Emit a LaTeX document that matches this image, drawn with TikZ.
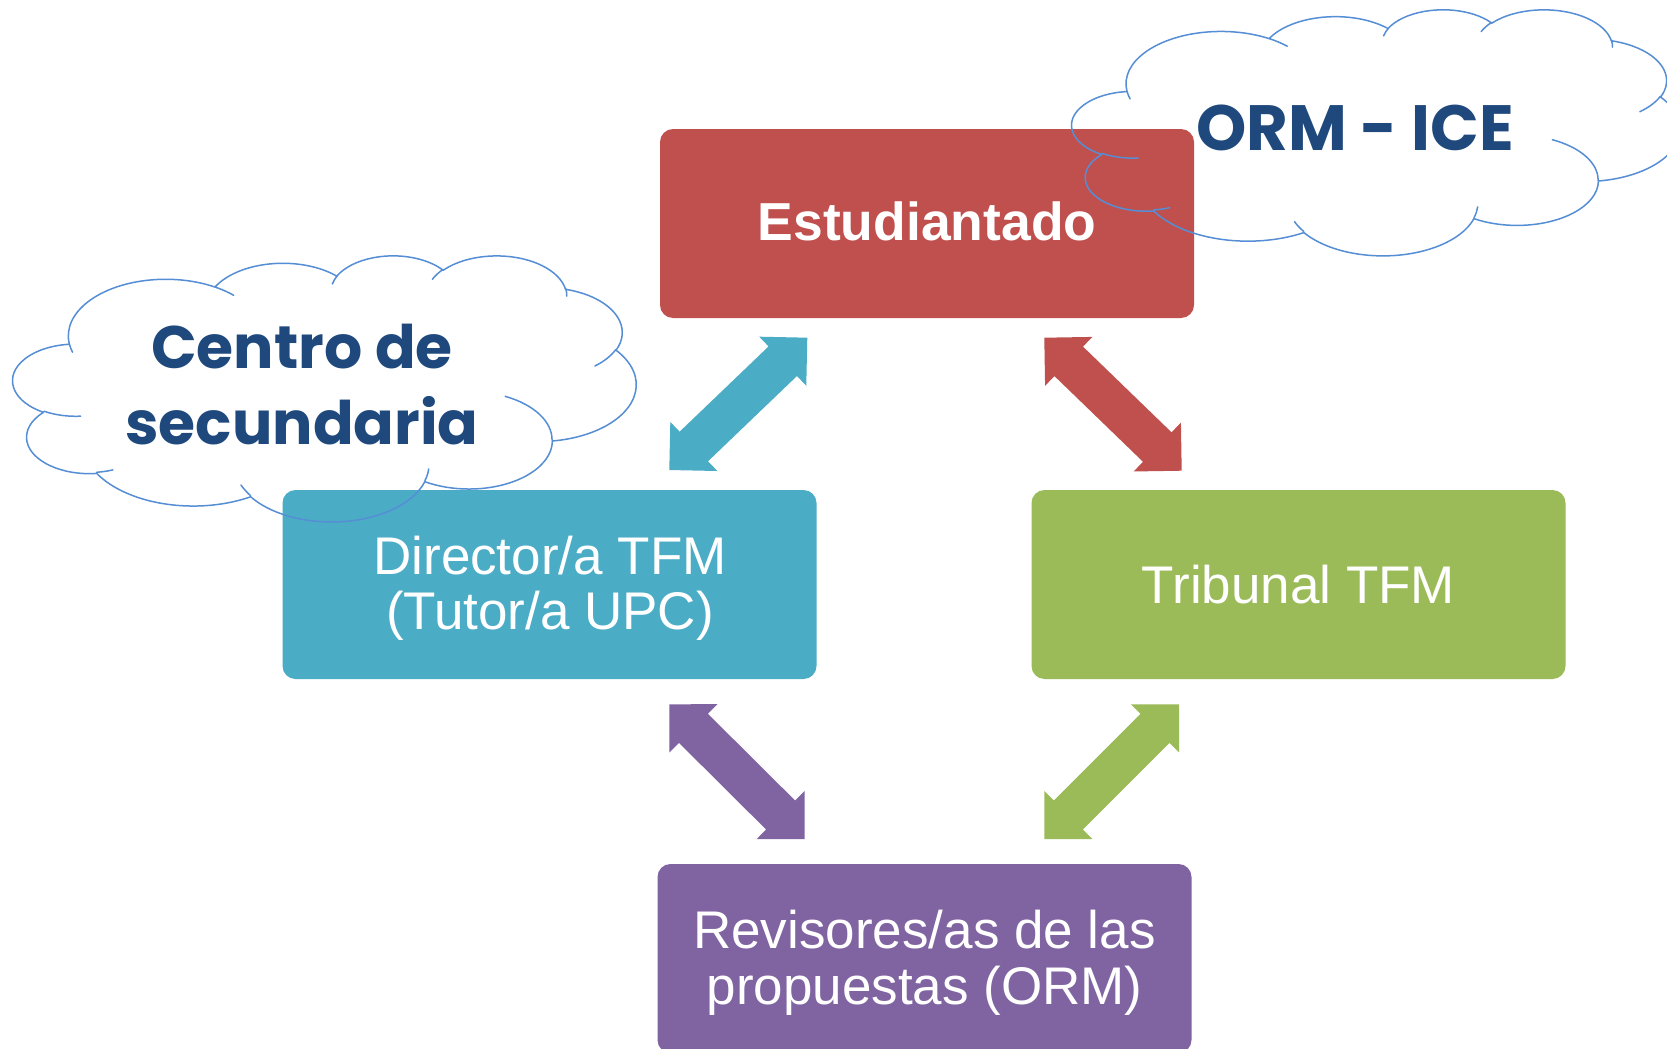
\documentclass[tikz,border=0pt]{standalone}
\usepackage{fontspec}
\setmainfont{Liberation Sans}
\newfontfamily\cgfont{Poppins}
\usetikzlibrary{calc}
\definecolor{cRed}{HTML}{C0504D}
\definecolor{cBlue}{HTML}{4BACC6}
\definecolor{cGreen}{HTML}{9BBB59}
\definecolor{cPurple}{HTML}{8064A2}
\definecolor{cloudline}{HTML}{558ED5}
\definecolor{cloudtext}{HTML}{1F497D}
\makeatletter
% elliptical arc with DrawingML-style (visual) angles
\newcommand\CArc[4]{%
  \pgfmathsetmacro\ca@e{#3+#4}%
  \pgfmathsetmacro\ca@ta{atan2(#1*sin(#3),#2*cos(#3))}%
  \pgfmathsetmacro\ca@tb{atan2(#1*sin(\ca@e),#2*cos(\ca@e))}%
  \pgfmathsetmacro\ca@d{\ca@tb-\ca@ta}%
  \pgfmathsetmacro\ca@d{\ca@d+360*and(#4>0,\ca@d<0)}%
  \pgfmathsetmacro\ca@tend{\ca@ta+\ca@d}%
  \pgfpatharcaxes{\ca@ta}{\ca@tend}{\pgfpointxy{#1}{0}}{\pgfpointxy{0}{#2}}%
}
\makeatother
\newcommand\cloudshape{%
 \pgfsetstrokecolor{cloudline}\pgfsetlinewidth{0.75pt}\pgfsetroundcap\pgfsetroundjoin
 \pgfpathmoveto{\pgfpointxy{39.00}{143.70}}%
 \CArc{67.53}{91.90}{-190.4875}{123.7805}%
 \CArc{53.33}{72.67}{-144.1024}{89.9452}%
 \CArc{43.65}{59.45}{-145.8079}{99.7230}%
 \CArc{48.57}{65.95}{-130.9861}{117.2417}%
 \CArc{53.33}{72.73}{-78.7089}{109.0269}%
 \CArc{67.75}{92.20}{-46.2673}{130.2690}%
 \CArc{57.85}{78.67}{0.6250}{114.0333}%
 \CArc{67.52}{92.15}{22.4516}{115.1726}%
 \CArc{77.20}{105.43}{66.2426}{75.7110}%
 \CArc{43.60}{59.18}{-274.9421}{146.7356}%
 \CArc{43.45}{59.45}{-246.8285}{152.5189}%
 \pgfpathclose
 \pgfpathmoveto{\pgfpointxy{46.93}{261.77}}\CArc{43.45}{59.45}{86.7420}{26.4295}%
 \pgfpathmoveto{\pgfpointxy{69.28}{348.99}}\CArc{43.60}{59.18}{73.6105}{11.4475}%
 \pgfpathmoveto{\pgfpointxy{164.78}{390.90}}\CArc{67.52}{92.15}{137.6242}{14.0811}%
 \pgfpathmoveto{\pgfpointxy{288.27}{347.51}}\CArc{67.52}{92.15}{6.4533}{15.9984}%
 \pgfpathmoveto{\pgfpointxy{341.29}{229.54}}\CArc{57.85}{78.67}{-70.2924}{70.9174}%
 \pgfpathmoveto{\pgfpointxy{417.98}{153.54}}\CArc{53.33}{72.73}{30.3180}{27.7515}%
 \pgfpathmoveto{\pgfpointxy{383.24}{54.26}}\CArc{48.57}{65.95}{-13.7443}{14.8589}%
 \pgfpathmoveto{\pgfpointxy{290.78}{39.52}}\CArc{48.57}{65.95}{-149.1815}{18.1954}%
 \pgfpathmoveto{\pgfpointxy{221.41}{47.20}}\CArc{43.65}{59.45}{-163.4943}{17.6864}%
 \pgfpathmoveto{\pgfpointxy{140.00}{51.92}}\CArc{67.53}{91.90}{-66.7070}{12.3194}%
 \pgfpathmoveto{\pgfpointxy{41.27}{157.89}}\CArc{67.53}{91.90}{157.6544}{11.8582}%
 \pgfusepath{stroke}%
}
% double block arrow between two tips
\newcommand\dblarrow[3]{%
 \fill[#1] (#2) -- ($(#2)!24.04pt!45:(#3)$) -- ($(#2)!19.85pt!31.09:(#3)$)
   -- ($(#3)!19.85pt!-31.09:(#2)$) -- ($(#3)!24.04pt!-45:(#2)$) -- (#3)
   -- ($(#3)!24.04pt!45:(#2)$) -- ($(#3)!19.85pt!31.09:(#2)$)
   -- ($(#2)!19.85pt!-31.09:(#3)$) -- ($(#2)!24.04pt!-45:(#3)$) -- cycle;}
\begin{document}
\begin{tikzpicture}[x=0.5pt,y=-0.5pt,
  box/.style={rectangle, rounded corners=6.5pt, minimum width=267pt, minimum height=94.5pt, inner sep=0pt, draw=none},
  boxtxt/.style={text=white, inner sep=0pt, anchor=base, font=\fontsize{26.5}{30}\selectfont},
  cloudtxt/.style={text=cloudtext, inner sep=0pt, anchor=base, font=\cgfont\bfseries\fontsize{32}{38}\selectfont}]
\useasboundingbox (0,0) rectangle (1667,1049);
\clip (0,0) rectangle (1667,1049);
\fill[white] (0,0) rectangle (1667,1049);
% boxes
\node[box, fill=cRed] (est) at (927,223.5) {};
\node[box, fill=cBlue] (dir) at (549.5,584.5) {};
\node[box, fill=cGreen] (trib) at (1298.5,584.5) {};
\node[box, fill=cPurple] (rev) at (924.5,958.5) {};
% arrows
\coordinate (bA) at (669.3,470);   \coordinate (bB) at (807.3,337.7);
\coordinate (rA) at (1044.3,337.7); \coordinate (rB) at (1181.7,470.7);
\coordinate (pA) at (669.3,704.3); \coordinate (pB) at (804.7,839);
\coordinate (gA) at (1179,704.3);  \coordinate (gB) at (1044.3,839);
\dblarrow{cBlue}{bA}{bB}
\dblarrow{cRed}{rA}{rB}
\dblarrow{cPurple}{pA}{pB}
\dblarrow{cGreen}{gA}{gB}
% clouds
\begin{scope}[shift={(13,255)}, x=0.72106pt, y=-0.30787pt]
 \cloudshape
\end{scope}
\begin{scope}[shift={(1072,9)}, x=0.70370pt, y=-0.28472pt]
 \cloudshape
\end{scope}
% texts
\node[boxtxt, font=\bfseries\fontsize{26.75}{30}\selectfont] (estT) at (927,240) {Estudiantado};
\node[boxtxt] (dirT1) at (550,574) {Director/a TFM};
\node[boxtxt] (dirT2) at (550,629) {(Tutor/a UPC)};
\node[boxtxt] (tribT) at (1298.5,603) {Tribunal TFM};
\node[boxtxt] (revT1) at (924.5,948) {Revisores/as de las};
\node[boxtxt] (revT2) at (924.5,1004) {propuestas (ORM)};
\node[cloudtxt, font=\cgfont\bfseries\fontsize{30}{38}\selectfont] (c1a) at (302,368) {Centro de};
\node[cloudtxt, font=\cgfont\bfseries\fontsize{30}{38}\selectfont] (c1b) at (302,444) {secundaria};
\node[cloudtxt] (c2) at (1355,150) {ORM - ICE};
\end{tikzpicture}
\end{document}
